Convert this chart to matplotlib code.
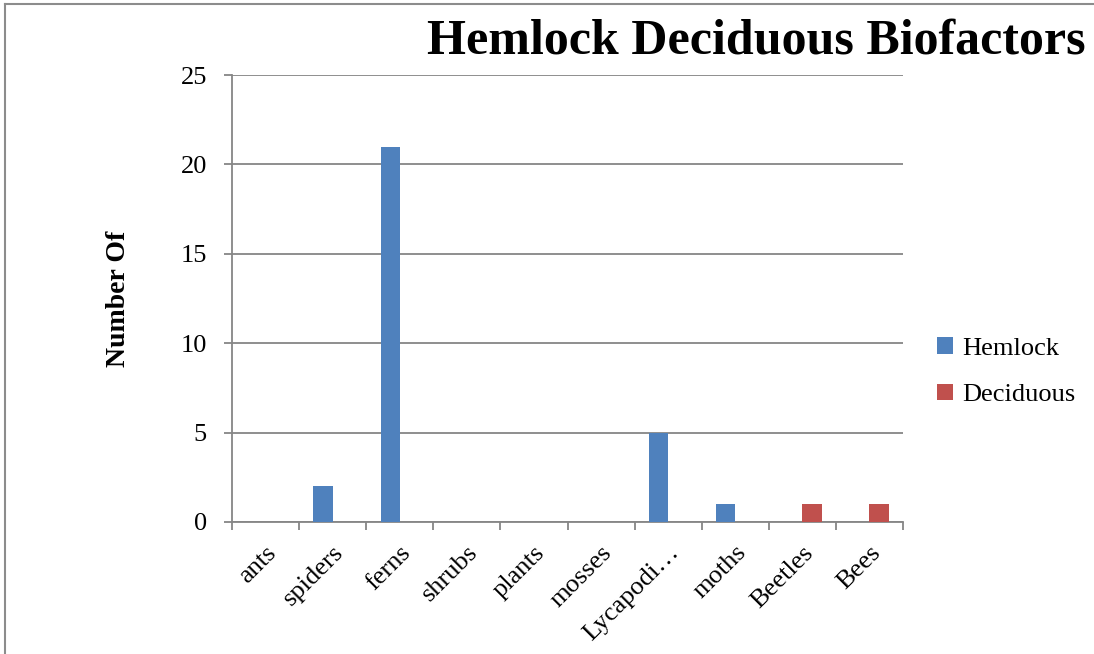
import numpy as np
import matplotlib
matplotlib.use("Agg")
import matplotlib.pyplot as plt
from matplotlib.lines import Line2D

categories = ['ants', 'spiders', 'ferns', 'shrubs', 'plants', 'mosses',
              'Lycapodi…', 'moths', 'Beetles', 'Bees']
hemlock = [0, 2, 21, 0, 0, 0, 5, 1, 0, 0]
deciduous = [0, 0, 0, 0, 0, 0, 0, 0, 1, 1]
y_ticks = [0, 5, 10, 15, 20, 25]

plt.rcParams['font.family'] = ['Liberation Serif', 'DejaVu Serif']

fig = plt.figure(figsize=(10.94, 6.54), dpi=100)
ax = fig.add_axes([232 / 1094, 1 - 522 / 654, (903 - 232) / 1094, (522 - 75) / 654])

grid_col = '#868686'
x = np.arange(len(categories))
w = 0.286
ax.bar(x - w / 2, hemlock, w, color='#4F81BD', label='Hemlock', zorder=3)
ax.bar(x + w / 2, deciduous, w, color='#C0504D', label='Deciduous', zorder=3)

ax.set_xlim(-0.5, len(categories) - 0.5)
ax.set_ylim(0, 25)
ax.set_yticks(y_ticks)
ax.yaxis.grid(True, color=grid_col, linewidth=1.3, zorder=0)
ax.set_axisbelow(True)

for s in ['top', 'right']:
    ax.spines[s].set_visible(False)
for s in ['left', 'bottom']:
    ax.spines[s].set_color(grid_col)
    ax.spines[s].set_linewidth(1.3)

# tick marks sit between categories, labels at the centres
ax.set_xticks(np.arange(len(categories) + 1) - 0.5, minor=False)
ax.set_xticklabels([])
ax.set_xticks(x, minor=True)
ax.set_xticklabels(categories, minor=True, rotation=45, ha='right',
                   rotation_mode='anchor', fontsize=19)
ax.tick_params(axis='x', which='minor', length=0, pad=14)
ax.tick_params(axis='x', which='major', length=6, width=1.3, color=grid_col)
ax.tick_params(axis='y', length=6, width=1.3, color=grid_col, labelsize=19, pad=12)

ax.set_ylabel('Number Of', fontsize=20, fontweight='bold', labelpad=36)

fig.text(756 / 1094, 1 - 42 / 654, 'Hemlock Deciduous Biofactors', fontsize=36,
         fontweight='bold', ha='center', va='center')

ax.legend(loc='center left', bbox_to_anchor=(1.035, 0.336), frameon=False,
          fontsize=19, handlelength=0.6, handleheight=0.6, handletextpad=0.35,
          labelspacing=0.9, borderaxespad=0)

fig.add_artist(Line2D([5 / 1094, 1], [1 - 4 / 654, 1 - 4 / 654], color='#8c8c8c', linewidth=1.5))
fig.add_artist(Line2D([5 / 1094, 5 / 1094], [0, 1 - 4 / 654], color='#8c8c8c', linewidth=1.5))

fig.savefig('out.png', dpi=100)
